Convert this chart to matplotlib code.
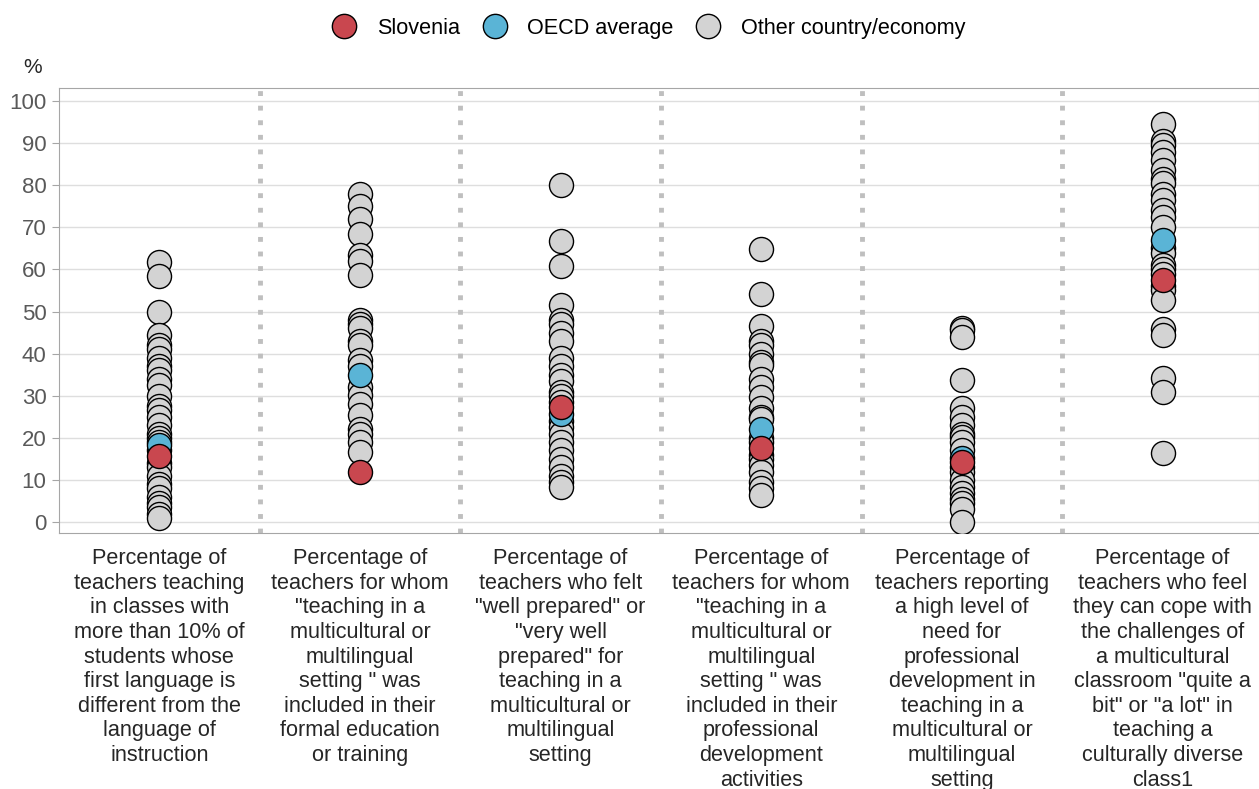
import numpy as np
import matplotlib.pyplot as plt
from matplotlib.lines import Line2D

plt.rcParams['font.family'] = ['Liberation Sans', 'DejaVu Sans']

# category labels (wrapped as in the source)
categories = [
    "Percentage of\nteachers teaching\nin classes with\nmore than 10% of\nstudents whose\nfirst language is\ndifferent from the\nlanguage of\ninstruction",
    "Percentage of\nteachers for whom\n\"teaching in a\nmulticultural or\nmultilingual\nsetting \" was\nincluded in their\nformal education\nor training",
    "Percentage of\nteachers who felt\n\"well prepared\" or\n\"very well\nprepared\" for\nteaching in a\nmulticultural or\nmultilingual\nsetting",
    "Percentage of\nteachers for whom\n\"teaching in a\nmulticultural or\nmultilingual\nsetting \" was\nincluded in their\nprofessional\ndevelopment\nactivities",
    "Percentage of\nteachers reporting\na high level of\nneed for\nprofessional\ndevelopment in\nteaching in a\nmulticultural or\nmultilingual\nsetting",
    "Percentage of\nteachers who feel\nthey can cope with\nthe challenges of\na multicultural\nclassroom \"quite a\nbit\" or \"a lot\" in\nteaching a\nculturally diverse\nclass1",
]

# other countries / economies, one list per category
other_1 = [61.8, 58.4, 49.8, 44.5, 42, 41, 39, 37, 36, 34, 32.5, 30, 27.5, 26.5, 25,
           23, 21, 20, 19, 17, 14, 13, 11, 9, 8, 6, 4.5, 3.5, 2, 1]
other_2 = [78, 75, 72, 68.5, 63.5, 62, 58.6, 48, 47, 46, 43, 42, 38.5, 37, 32, 30.2,
           28, 25.5, 22, 21, 19, 16.7]
other_3 = [80, 66.8, 60.8, 51.5, 48, 47, 45, 43, 39, 37, 35, 33.5, 31, 30, 28.5, 24,
           22.6, 21, 19, 17, 15, 13, 11, 9.5, 8.4]
other_4 = [64.8, 54.2, 46.5, 43, 42, 40, 38, 37.2, 34, 32, 29.8, 27, 25, 24.5, 20, 19,
           16, 15, 13.5, 12, 9.6, 8, 6.5]
other_5 = [46, 45.5, 44, 33.8, 27, 25, 23, 21, 20.3, 19, 17, 13, 12, 10, 8.4, 7, 5.5,
           4.5, 3, 0]
other_6 = [94.5, 90.5, 89.5, 88, 86, 83.6, 81.5, 80.5, 78, 76.5, 74, 72.5, 70, 65,
           63.8, 61, 60, 59, 56, 55, 52.7, 45.8, 44.5, 34.3, 30.8, 16.5]
others = [other_1, other_2, other_3, other_4, other_5, other_6]

oecd = [18.3, 34.9, 25.6, 22.0, 15.3, 66.9]
slovenia = [15.8, 11.8, 27.3, 17.6, 14.2, 57.6]

c_slo = '#c9474f'
c_oecd = '#5ab4d6'
c_other = '#d3d3d3'
ms = 300

fig = plt.figure(figsize=(12.59, 7.89), dpi=100)
ax = fig.add_axes([0.0469, 0.3245, 0.953, 0.564])

for i, vals in enumerate(others):
    ax.scatter(np.full(len(vals), i), vals, s=ms, c=c_other, edgecolors='black',
               linewidths=1, zorder=3)
ax.scatter(range(len(oecd)), oecd, s=ms, c=c_oecd, edgecolors='black', linewidths=1, zorder=4)
ax.scatter(range(len(slovenia)), slovenia, s=ms, c=c_slo, edgecolors='black', linewidths=1, zorder=5)

# dotted separators between categories
for k in range(1, len(categories)):
    ax.axvline(k - 0.5, color='#bfbfbf', linestyle=(0, (1, 2)), linewidth=3.5, zorder=1)

ax.set_xlim(-0.5, 5.48)
ax.set_ylim(-2.6, 103.1)
ax.set_yticks(range(0, 101, 10))
ax.yaxis.grid(True, color='#dedede', linewidth=1, zorder=0)
ax.set_axisbelow(True)
ax.tick_params(axis='y', labelsize=16, colors='#595959', length=5, color='#a6a6a6', pad=4)
ax.set_xticks(range(len(categories)))
ax.set_xticklabels(categories, fontsize=15.6, color='#262626', linespacing=1.225, va='top')
ax.tick_params(axis='x', length=0, pad=11)
for sp in ax.spines.values():
    sp.set_color('#a6a6a6')

fig.text(0.026, 0.915, '%', fontsize=15, color='#262626', ha='center', va='center')

handles = [Line2D([], [], marker='o', linestyle='', markersize=17.5, markerfacecolor=c,
                  markeredgecolor='black') for c in (c_slo, c_oecd, c_other)]
fig.legend(handles, ['Slovenia', 'OECD average', 'Other country/economy'],
           loc='center', bbox_to_anchor=(0.5115, 0.9645), ncol=3, frameon=False,
           fontsize=15.6, handletextpad=0.5, columnspacing=0.6)

fig.savefig('out.png', dpi=100)
